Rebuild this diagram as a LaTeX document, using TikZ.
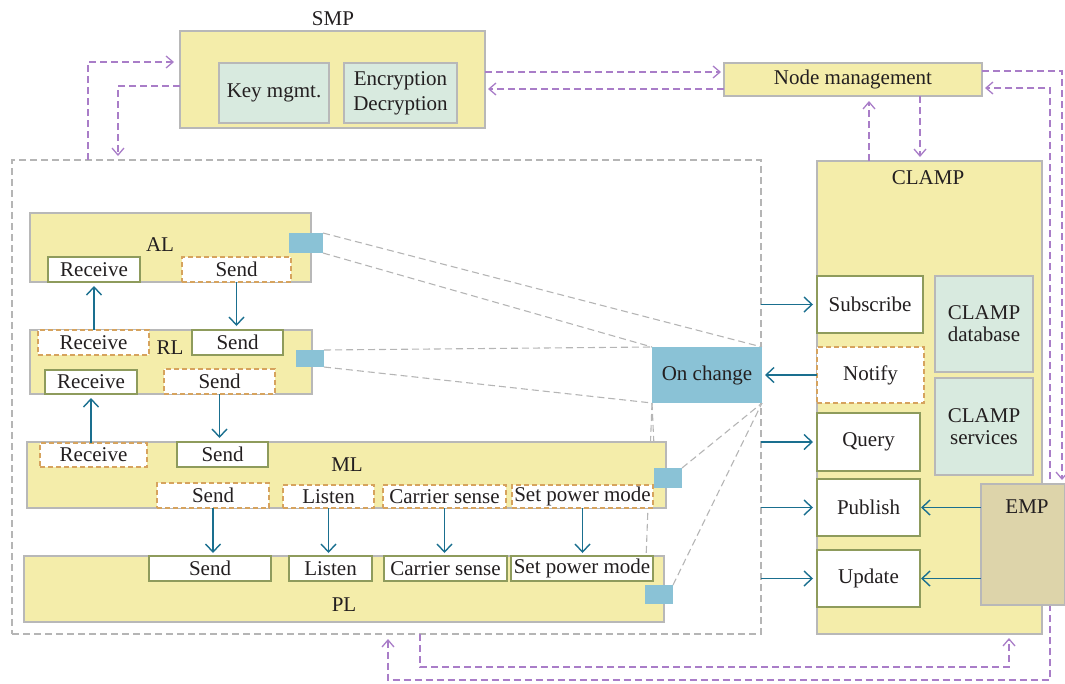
\documentclass[tikz,border=0pt]{standalone}
\usepackage{fontspec}
\setmainfont{Liberation Serif}
\usetikzlibrary{arrows.meta}
\definecolor{yfill}{HTML}{F4EDAA}
\definecolor{mfill}{HTML}{D8EADF}
\definecolor{kfill}{HTML}{DDD4AA}
\definecolor{bgray}{HTML}{B8B8B8}
\definecolor{olivec}{HTML}{8E9B5C}
\definecolor{orngc}{HTML}{D6A35E}
\definecolor{bluec}{HTML}{8AC2D6}
\definecolor{tealc}{HTML}{1A6F8F}
\definecolor{purpc}{HTML}{A97DC8}
\definecolor{gdash}{HTML}{B5B5B5}
\definecolor{txtc}{HTML}{231F20}
\tikzset{
  basebox/.style={rectangle, inner sep=0pt, outer sep=0pt, line width=1.2pt, text=txtc},
  ybox/.style={basebox, draw=bgray, fill=yfill},
  mbox/.style={basebox, draw=bgray, fill=mfill},
  kbox/.style={basebox, draw=bgray, fill=kfill},
  sbox/.style={basebox, draw=olivec, fill=white},
  dbox/.style={basebox, draw=orngc, fill=white, line width=1.3pt, dash pattern=on 5pt off 3pt},
  bsq/.style={basebox, fill=bluec},
  sz/.style 2 args={minimum width=#1pt, minimum height=#2pt},
  tarr/.style={draw=tealc, line width=1.4pt, -{Straight Barb[length=8pt,width=15pt,line width=1.4pt]}},
  parr/.style={draw=purpc, line width=1.3pt, dash pattern=on 7pt off 4pt},
  ptip/.style={-{Straight Barb[length=7pt,width=12pt,line width=1.3pt]}},
  gline/.style={draw=gdash, line width=1.1pt, dash pattern=on 7pt off 4pt},
  lab/.style={anchor=base, text=txtc, inner sep=0pt}
}
\begin{document}
\begin{tikzpicture}[x=1pt,y=-1pt,font=\fontsize{21}{24}\selectfont]
\useasboundingbox (0,0) rectangle (1065,683);

% outer dashed frame
\node[basebox, draw=gdash, line width=1.1pt, dash pattern=on 7pt off 4pt, sz={749}{474}] (outer) at (386.5,397) {};

% SMP
\node[lab] (smplab) at (333,25) {SMP};
\node[ybox, sz={305}{97}] (smp) at (332.5,79.5) {};
\node[mbox, sz={110}{60}] (key) at (274,93) {Key mgmt.};
\node[mbox, sz={113}{60}, align=center, font=\fontsize{21}{25}\selectfont] (enc) at (400.5,93) {Encryption\\Decryption};

% Node management
\node[ybox, sz={258}{33}] (nm) at (853,79.5) {Node management};

% CLAMP
\node[ybox, sz={225}{473}] (clamp) at (929.5,397.5) {};
\node[lab] (clamplab) at (928,184) {CLAMP};
\node[sbox, sz={106}{57}] (sub) at (870,304.5) {Subscribe};
\node[dbox, sz={107}{56}] (notify) at (870.5,375) {Notify};
\node[sbox, sz={103}{58}] (query) at (868.5,442) {Query};
\node[sbox, sz={103}{57}] (pub) at (868.5,507.5) {Publish};
\node[sbox, sz={103}{57}] (upd) at (868.5,578.5) {Update};
\node[mbox, sz={98}{96}, align=center, font=\fontsize{21}{22}\selectfont] (db) at (984,324) {CLAMP\\database};
\node[mbox, sz={98}{97}, align=center, font=\fontsize{21}{22}\selectfont] (serv) at (984,426.5) {CLAMP\\services};

% perspective lines (behind layers)
\coordinate (alsqNE) at (323,233);
\coordinate (alsqSE) at (323,253);
\coordinate (rlsqNE) at (324,350);
\coordinate (rlsqSE) at (324,367);
\coordinate (mlsqNW) at (655,468);
\coordinate (mlsqNE) at (682,468);
\coordinate (plsqNW) at (645,585);
\coordinate (plsqNE) at (673,585);
\coordinate (ocNW) at (652,347);
\coordinate (ocNE) at (762,347);
\coordinate (ocSW) at (652,403);
\coordinate (ocSE) at (762,403);
\draw[gline] (alsqNE) -- (ocNE);
\draw[gline] (alsqSE) -- (ocNW);
\draw[gline] (rlsqNE) -- (ocNW);
\draw[gline] (rlsqSE) -- (ocSW);
\draw[gline] (ocSW) -- (mlsqNW);
\draw[gline] (ocSW) -- (plsqNW);
\draw[gline] (mlsqNE) -- (ocSE);
\draw[gline] (plsqNE) -- (ocSE);

% AL
\node[ybox, sz={281}{69}] (al) at (170.5,247.5) {};
\node[lab] (allab) at (160,251) {AL};
\node[sbox, sz={92}{25}] (alrec) at (94,269.5) {Receive};
\node[dbox, sz={109}{25}] (alsend) at (236.5,269.5) {Send};
\node[bsq, sz={34}{20}] (alsq) at (306,243) {};

% RL
\node[ybox, sz={282}{64}] (rl) at (171,362) {};
\node[lab] (rllab) at (170,354) {RL};
\node[dbox, sz={111}{25}] (rlrec1) at (93.5,342.5) {Receive};
\node[sbox, sz={91}{25}] (rlsend1) at (237.5,342.5) {Send};
\node[sbox, sz={92}{24}] (rlrec2) at (91,382) {Receive};
\node[dbox, sz={111}{25}] (rlsend2) at (219.5,381.5) {Send};
\node[bsq, sz={28}{17}] (rlsq) at (310,358.5) {};

% ML
\node[ybox, sz={639}{66}] (ml) at (346.5,475) {};
\node[lab] (mllab) at (347,471) {ML};
\node[dbox, sz={107}{24}] (mlrec) at (93.5,455) {Receive};
\node[sbox, sz={91}{25}] (mlsend1) at (222.5,454.5) {Send};
\node[dbox, sz={112}{25}] (mlsend2) at (213,495.5) {Send};
\node[dbox, sz={91}{23}] (mllis) at (328.5,496.5) {Listen};
\node[dbox, sz={123}{23}] (mlcar) at (444.5,496.5) {Carrier sense};
\node[dbox, sz={141}{23}] (mlpow) at (582.5,496.5) {Set power mode};
\node[bsq, sz={28}{20}] (mlsq) at (668,478) {};

% PL
\node[ybox, sz={640}{66}] (pl) at (344,589) {};
\node[lab] (pllab) at (344,611) {PL};
\node[sbox, sz={122}{25}] (plsend) at (210,568.5) {Send};
\node[sbox, sz={83}{25}] (pllis) at (330.5,568.5) {Listen};
\node[sbox, sz={123}{25}] (plcar) at (445.5,568.5) {Carrier sense};
\node[sbox, sz={142}{25}] (plpow) at (582,568.5) {Set power mode};
\node[bsq, sz={28}{19}] (plsq) at (659,594.5) {};

% On change
\node[bsq, sz={110}{56}] (onch) at (707,375) {On change};

% teal arrows between layers
\draw[tarr, shorten >=4pt] (alrec.south |- rlrec1.north) -- (alrec.south);
\draw[tarr, shorten >=4pt] (alsend.south) -- (alsend.south |- rlsend1.north);
\draw[tarr, shorten >=4pt] (rlrec2.south |- mlrec.north) -- (rlrec2.south);
\draw[tarr, shorten >=4pt] (rlsend2.south) -- (rlsend2.south |- mlsend1.north);
\draw[tarr, shorten >=3pt] (mlsend2.south) -- (mlsend2.south |- plsend.north);
\draw[tarr, shorten >=3pt] (mllis.south) -- (mllis.south |- pllis.north);
\draw[tarr, shorten >=3pt] (mlcar.south) -- (mlcar.south |- plcar.north);
\draw[tarr, shorten >=3pt] (mlpow.south) -- (mlpow.south |- plpow.north);

% teal arrows to CLAMP
\draw[tarr, shorten >=4pt] (sub.west -| outer.east) -- (sub.west);
\draw[tarr, shorten >=3pt] (notify.west) -- (onch.east);
\draw[tarr, shorten >=4pt] (query.west -| outer.east) -- (query.west);
\draw[tarr, shorten >=4pt] (pub.west -| outer.east) -- (pub.west);
\draw[tarr, shorten >=4pt] (upd.west -| outer.east) -- (upd.west);

% purple dashed connectors
\coordinate (p1) at (88,62);
\coordinate (p2) at (118,86);
\draw[parr, ptip, shorten >=6pt] (p1 |- outer.north) -- (p1) -- (p1 -| smp.west);
\draw[parr, ptip, shorten >=4pt] (p2 -| smp.west) -- (p2) -- (p2 |- outer.north);
\coordinate (p3) at (485,72);
\coordinate (p4) at (485,89);
\draw[parr, ptip, shorten >=3pt] (p3 -| smp.east) -- (p3 -| nm.west);
\draw[parr, ptip, shorten >=3pt] (p4 -| nm.west) -- (p4 -| smp.east);
\coordinate (p5) at (869,100);
\coordinate (p6) at (920,100);
\draw[parr, ptip, shorten >=5pt] (p5 |- clamp.north) -- (p5 |- nm.south);
\draw[parr, ptip, shorten >=4pt] (p6 |- nm.south) -- (p6 |- clamp.north);
\coordinate (p7) at (1062,71);
\coordinate (p7e) at (1062,484);
\draw[parr, ptip, shorten >=4pt] (p7 -| nm.east) -- (p7) -- (p7e);
\coordinate (p8a) at (388,680);
\coordinate (p8b) at (1050,680);
\coordinate (p8c) at (1050,88);
\draw[parr, {Straight Barb[length=7pt,width=12pt,line width=1.3pt]}-{Straight Barb[length=7pt,width=12pt,line width=1.3pt]}, shorten <=5pt, shorten >=3pt] (p8a |- outer.south) -- (p8a) -- (p8b) -- (p8c) -- (p8c -| nm.east);
\coordinate (p9a) at (420,667);
\coordinate (p9b) at (1009,667);
\draw[parr, ptip, shorten >=4pt] (p9a |- outer.south) -- (p9a) -- (p9b) -- (p9b |- clamp.south);

% EMP (on top of the purple line)
\node[kbox, sz={84}{121}] (emp) at (1023,544.5) {};
\node[lab] (emplab) at (1027,513) {EMP};
\draw[tarr, shorten >=1pt] (emp.west |- pub.east) -- (pub.east);
\draw[tarr, shorten >=1pt] (emp.west |- upd.east) -- (upd.east);
\end{tikzpicture}
\end{document}
